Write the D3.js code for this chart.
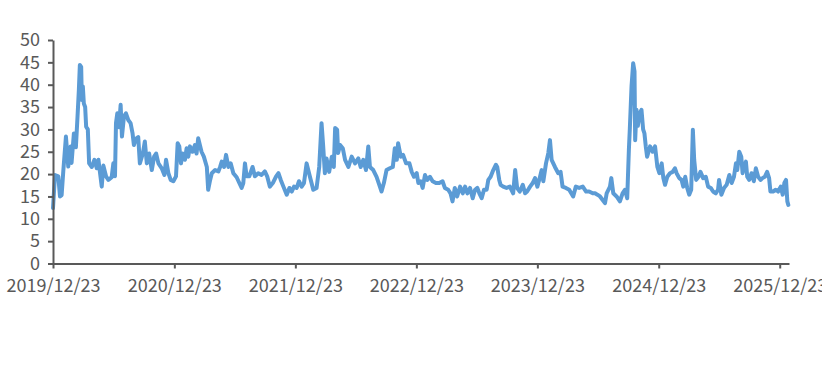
<!DOCTYPE html>
<html><head><meta charset="utf-8">
<script src="https://cdn.jsdelivr.net/npm/d3@7"></script>
<style>
html,body{margin:0;padding:0;background:#fff;}
svg{display:block;}
</style></head>
<body>
<svg id="chart" width="822" height="380"></svg>
<script>
const dates = [
"2019-12-23","2019-12-29","2020-01-08","2020-01-13","2020-01-18","2020-01-23","2020-01-31","2020-02-07","2020-02-14","2020-02-17",
"2020-02-24","2020-03-01","2020-03-06","2020-03-10","2020-03-13","2020-03-17","2020-03-19","2020-03-22","2020-03-25","2020-03-29",
"2020-04-01","2020-04-06","2020-04-10","2020-04-18","2020-04-26","2020-05-03","2020-05-08","2020-05-13","2020-05-18","2020-05-23",
"2020-05-31","2020-06-07","2020-06-17","2020-06-22","2020-06-27","2020-06-30","2020-07-04","2020-07-09","2020-07-14","2020-07-18",
"2020-07-24","2020-07-30","2020-08-06","2020-08-13","2020-08-19","2020-08-23","2020-08-29","2020-09-05","2020-09-10","2020-09-19",
"2020-09-25","2020-10-01","2020-10-08","2020-10-16","2020-10-23","2020-10-29","2020-11-05","2020-11-15","2020-11-23","2020-11-28",
"2020-12-05","2020-12-12","2020-12-20","2020-12-28","2021-01-02","2021-01-07","2021-01-12","2021-01-17","2021-01-24","2021-01-29",
"2021-02-03","2021-02-08","2021-02-16","2021-02-23","2021-02-28","2021-03-05","2021-03-10","2021-03-15","2021-03-22","2021-03-31",
"2021-04-04","2021-04-10","2021-04-15","2021-04-25","2021-05-05","2021-05-10","2021-05-15","2021-05-22","2021-05-28","2021-06-04",
"2021-06-11","2021-06-19","2021-06-29","2021-07-07","2021-07-14","2021-07-19","2021-07-24","2021-07-29","2021-08-06","2021-08-16",
"2021-08-23","2021-09-02","2021-09-12","2021-09-22","2021-09-29","2021-10-07","2021-10-16","2021-10-26","2021-11-02","2021-11-09",
"2021-11-17","2021-11-27","2021-12-05","2021-12-12","2021-12-19","2021-12-27","2022-01-03","2022-01-11","2022-01-18","2022-01-26",
"2022-02-05","2022-02-15","2022-02-25","2022-03-05","2022-03-12","2022-03-17","2022-03-22","2022-03-27","2022-04-04","2022-04-12",
"2022-04-18","2022-04-22","2022-04-28","2022-05-01","2022-05-07","2022-05-15","2022-05-22","2022-06-01","2022-06-11","2022-06-21",
"2022-07-01","2022-07-08","2022-07-16","2022-07-24","2022-07-31","2022-08-05","2022-08-15","2022-08-25","2022-09-04","2022-09-09",
"2022-09-16","2022-09-24","2022-10-04","2022-10-13","2022-10-19","2022-10-25","2022-10-29","2022-11-06","2022-11-13","2022-11-22",
"2022-12-02","2022-12-09","2022-12-16","2022-12-24","2022-12-29","2023-01-05","2023-01-11","2023-01-18","2023-01-25","2023-02-02",
"2023-02-10","2023-02-20","2023-03-02","2023-03-12","2023-03-19","2023-03-29","2023-04-05","2023-04-11","2023-04-18","2023-04-25",
"2023-05-04","2023-05-12","2023-05-19","2023-05-26","2023-06-03","2023-06-11","2023-06-18","2023-06-25","2023-07-01","2023-07-08",
"2023-07-15","2023-07-23","2023-07-28","2023-08-04","2023-08-12","2023-08-20","2023-08-24","2023-08-30","2023-09-03","2023-09-11",
"2023-09-21","2023-10-01","2023-10-11","2023-10-17","2023-10-23","2023-10-31","2023-11-09","2023-11-16","2023-11-22","2023-12-01",
"2023-12-09","2023-12-16","2023-12-23","2023-12-31","2024-01-05","2024-01-10","2024-01-18","2024-01-25","2024-01-30","2024-02-04",
"2024-02-14","2024-02-24","2024-03-02","2024-03-08","2024-03-18","2024-03-28","2024-04-09","2024-04-17","2024-04-27","2024-05-08",
"2024-05-18","2024-05-27","2024-06-07","2024-06-14","2024-06-21","2024-06-29","2024-07-07","2024-07-14","2024-07-19","2024-07-29",
"2024-08-02","2024-08-08","2024-08-18","2024-08-28","2024-09-05","2024-09-12","2024-09-19","2024-09-24","2024-09-27","2024-10-02",
"2024-10-07","2024-10-11","2024-10-13","2024-10-17","2024-10-21","2024-10-27","2024-11-01","2024-11-06","2024-11-10","2024-11-14",
"2024-11-18","2024-11-27","2024-12-05","2024-12-12","2024-12-19","2024-12-25","2025-01-01","2025-01-06","2025-01-11","2025-01-18",
"2025-01-26","2025-02-03","2025-02-10","2025-02-15","2025-02-23","2025-03-02","2025-03-07","2025-03-13","2025-03-19","2025-03-25",
"2025-03-31","2025-04-05","2025-04-09","2025-04-15","2025-04-22","2025-04-28","2025-05-06","2025-05-14","2025-05-21","2025-05-29",
"2025-06-05","2025-06-13","2025-06-20","2025-06-23","2025-06-30","2025-07-08","2025-07-16","2025-07-24","2025-07-31","2025-08-07",
"2025-08-13","2025-08-17","2025-08-23","2025-08-29","2025-09-02","2025-09-06","2025-09-12","2025-09-16","2025-09-22","2025-09-29",
"2025-10-06","2025-10-12","2025-10-19","2025-10-26","2025-11-01","2025-11-08","2025-11-15","2025-11-21","2025-11-25","2025-12-03",
"2025-12-11","2025-12-18","2025-12-26","2026-01-01","2026-01-06","2026-01-11","2026-01-15","2026-01-18"
];
const values = [
12.4,19.8,19.5,15.0,15.3,20.6,28.4,21.7,26.2,22.5,
29.1,26.0,32.9,38.8,44.4,44.0,36.6,39.6,35.8,35.0,
30.6,30.0,22.4,21.6,23.2,21.3,23.2,20.2,17.2,21.9,
19.5,18.7,19.3,22.4,19.5,31.4,33.6,30.5,35.5,28.4,
32.9,33.6,32.1,31.4,29.1,26.5,27.9,28.3,22.4,24.6,
27.3,22.4,24.6,20.9,23.9,24.6,22.4,21.3,19.8,23.2,
20.2,18.7,18.4,19.5,26.9,26.2,22.4,24.6,23.2,25.8,
23.9,26.2,25.0,26.5,24.6,28.0,26.5,25.0,23.9,21.6,
16.5,18.7,20.2,20.9,20.6,21.6,22.8,21.6,24.3,21.6,
22.4,20.2,19.3,18.0,16.9,18.0,22.4,19.5,19.5,21.6,
19.5,20.2,19.8,20.6,19.5,17.2,18.0,19.5,20.2,18.7,
17.2,15.4,16.9,16.1,17.2,16.9,18.4,17.2,18.0,22.4,
19.4,16.5,16.9,21.6,31.4,26.2,20.2,23.5,20.5,23.9,
21.6,30.3,29.9,24.7,26.5,25.8,23.2,21.6,23.9,22.4,
23.5,21.6,23.2,20.9,26.2,21.6,20.9,19.4,17.2,16.1,
18.0,20.9,21.3,21.6,25.8,23.2,26.9,23.9,24.3,22.4,
22.4,20.5,19.4,20.2,18.0,18.4,16.9,19.8,18.7,19.4,
18.4,18.0,18.0,18.4,16.9,16.5,15.7,13.9,16.9,15.0,
17.2,15.7,17.2,15.7,16.9,14.6,16.5,16.9,15.7,14.6,
16.5,16.5,18.7,19.4,20.9,22.1,21.6,18.7,17.6,17.2,
16.9,17.2,15.7,20.9,16.9,16.1,17.6,15.7,16.1,17.2,
18.0,19.1,17.2,19.4,20.9,18.4,22.4,24.7,27.6,23.2,
21.6,20.2,20.5,17.2,16.9,16.5,15.0,17.2,16.9,17.2,
16.1,16.1,15.7,15.7,15.4,15.0,14.2,13.5,15.7,17.2,
19.1,15.7,15.0,13.9,15.7,16.5,14.6,25.4,30.3,39.6,
44.8,43.0,27.6,34.4,30.8,33.6,34.4,30.0,29.1,26.2,
23.9,26.2,25.0,26.2,21.6,20.2,22.4,19.1,17.6,19.4,
20.2,20.5,21.3,20.2,19.1,18.7,17.2,19.4,16.9,15.4,
16.5,29.9,23.2,18.7,19.4,20.5,19.1,19.4,17.2,16.9,
16.1,15.7,16.5,18.7,15.4,16.9,17.6,19.8,18.0,19.4,
22.4,20.9,25.0,23.9,20.2,21.6,22.8,19.4,18.7,20.2,
18.4,21.3,19.4,18.7,19.1,19.4,20.5,19.1,16.1,16.1,
16.5,16.1,17.2,15.4,18.0,18.7,13.9,13.1
];
const xTickLabels = ["2019/12/23","2020/12/23","2021/12/23","2022/12/23","2023/12/23","2024/12/23","2025/12/23"];
const yTicks = [0,5,10,15,20,25,30,35,40,45,50];

(function(){
const parse = d3.timeParse("%Y-%m-%d");
const tickParse = d3.timeParse("%Y/%m/%d");
const data = dates.map((d,i)=>({date:parse(d), v:values[i]}));

const svg = d3.select("#chart");
const mLeft = 53, mRight = 789, mTop = 40, mBottom = 263.5;
const x = d3.scaleTime().domain([parse("2019-12-23"), parse("2026-01-20")]).range([mLeft, mRight]);
const y = d3.scaleLinear().domain([0,50]).range([mBottom, mTop]);

const axisColor = "#595959";
const font = "'Noto Sans CJK SC','Noto Sans',sans-serif";

svg.append("path")
  .datum(data)
  .attr("fill","none")
  .attr("stroke","#5b9bd5")
  .attr("stroke-width",4)
  .attr("stroke-linejoin","round")
  .attr("stroke-linecap","round")
  .attr("d", d3.line().x(d=>x(d.date)).y(d=>y(d.v)));

const yAxis = svg.append("g").attr("transform",`translate(${mLeft},0)`)
  .call(d3.axisLeft(y).tickValues(yTicks).tickSize(5).tickSizeOuter(0).tickPadding(8));
const xAxis = svg.append("g").attr("transform",`translate(0,${mBottom})`)
  .call(d3.axisBottom(x).tickValues(xTickLabels.map(t=>tickParse(t))).tickSize(5).tickSizeOuter(0)
    .tickFormat((d,i)=>xTickLabels[i]).tickPadding(11));

[yAxis,xAxis].forEach(g=>{
  g.selectAll(".domain").attr("stroke",axisColor).attr("stroke-width",2);
  g.selectAll(".tick line").attr("stroke",axisColor).attr("stroke-width",2);
  g.selectAll("text").attr("fill",axisColor).style("font-family",font).style("font-size","18px");
});
})();
</script>
</body></html>
